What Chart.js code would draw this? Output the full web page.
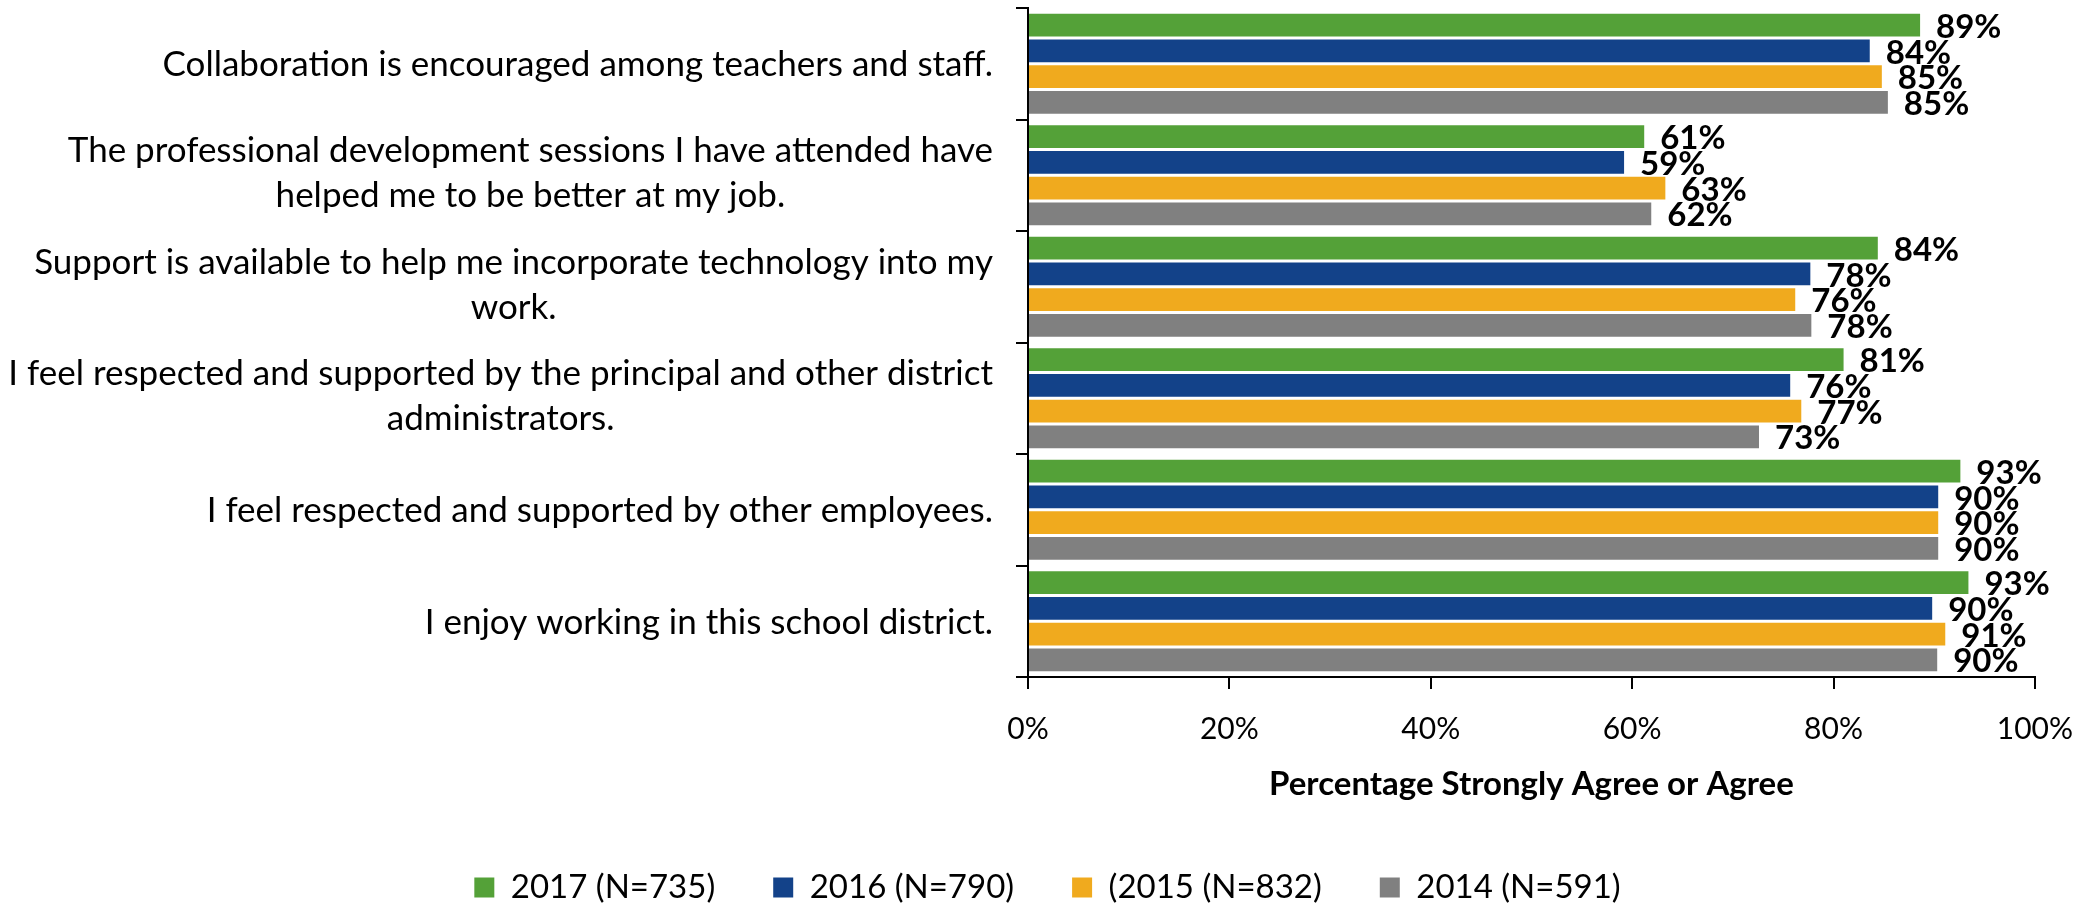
<!DOCTYPE html>
<html>
<head>
<meta charset="utf-8">
<script src="https://cdn.jsdelivr.net/npm/chart.js@4.4.1/dist/chart.umd.min.js"></script>
<style>
  html, body { margin: 0; padding: 0; background: #fff; }
  #wrap { width: 2095px; height: 904px; position: relative; }
</style>
</head>
<body>
<div id="wrap"><canvas id="chartId"></canvas></div>
<script>
// statements, top to bottom
var categories = [
	"Collaboration is encouraged among teachers and staff.",
	["The professional development sessions I have attended have", "helped me to be better at my job."],
	["Support is available to help me incorporate technology into my", "work."],
	["I feel respected and supported by the principal and other district", "administrators."],
	"I feel respected and supported by other employees.",
	"I enjoy working in this school district."
];

// percent agreeing
var values2017 = [88.6, 61.2, 84.4, 81.0, 92.6, 93.4];
var values2016 = [83.6, 59.2, 77.7, 75.7, 90.4, 89.8];
var values2015 = [84.8, 63.3, 76.2, 76.8, 90.4, 91.1];
var values2014 = [85.4, 61.9, 77.8, 72.6, 90.4, 90.3];

var seriesNames = ["2017 (N=735)", "2016 (N=790)", "(2015 (N=832)", "2014 (N=591)"];
var colours = ['#54A138', '#134289', '#F0AA1E', '#808080'];
var xTicks = [0, 20, 40, 60, 80, 100];

var FONT = 'Lato';

// draws the category labels, lines centred on each other, right edge near the axis
var yLabelPlugin = {
	id: 'yLabels',
	afterDraw: function (chart) {
		var ctx = chart.ctx;
		var ys = chart.scales.y;
		var right = chart.chartArea.left - 35;
		ctx.save();
		ctx.font = '35px ' + FONT;
		ctx.fillStyle = '#000';
		ctx.textAlign = 'center';
		ctx.textBaseline = 'middle';
		categories.forEach(function (lab, i) {
			var lines = Array.isArray(lab) ? lab : [lab];
			var w = Math.max.apply(null, lines.map(function (l) { return ctx.measureText(l).width; }));
			var cx = right - w / 2;
			var cy = ys.getPixelForTick(i) + (lines.length === 1 ? 1 : -2);
			var lh = 45;
			lines.forEach(function (l, k) {
				ctx.fillText(l, cx, cy + (k - (lines.length - 1) / 2) * lh);
			});
		});
		ctx.restore();
	}
};

// value labels at the end of each bar
var valueLabelPlugin = {
	id: 'valueLabels',
	afterDatasetsDraw: function (chart) {
		var ctx = chart.ctx;
		ctx.save();
		ctx.font = 'bold 33px ' + FONT;
		ctx.fillStyle = '#000';
		ctx.textAlign = 'left';
		ctx.textBaseline = 'middle';
		chart.data.datasets.forEach(function (ds, di) {
			var meta = chart.getDatasetMeta(di);
			meta.data.forEach(function (bar, i) {
				ctx.fillText(Math.round(ds.data[i]) + '%', bar.x + 16, bar.y + 2);
			});
		});
		ctx.restore();
	}
};

function makeChart() {
	Chart.defaults.font.family = FONT;
	Chart.defaults.color = '#000';

	var chrt = document.getElementById("chartId").getContext("2d");
	new Chart(chrt, {
		type: 'bar',
		data: {
			labels: categories,
			datasets: [
				{ label: seriesNames[0], data: values2017, backgroundColor: colours[0] },
				{ label: seriesNames[1], data: values2016, backgroundColor: colours[1] },
				{ label: seriesNames[2], data: values2015, backgroundColor: colours[2] },
				{ label: seriesNames[3], data: values2014, backgroundColor: colours[3] }
			]
		},
		options: {
			indexAxis: 'y',
			responsive: true,
			maintainAspectRatio: false,
			animation: false,
			categoryPercentage: 0.923,
			barPercentage: 0.883,
			layout: { padding: { top: 8, left: 0, right: 0, bottom: -10 } },
			plugins: {
				legend: {
					position: 'bottom',
					labels: {
						font: { size: 33 },
						boxWidth: 20,
						boxHeight: 20,
						padding: 58,
						color: '#000'
					}
				},
				tooltip: { enabled: false }
			},
			scales: {
				x: {
					min: 0,
					max: 100,
					afterBuildTicks: function (s) { s.ticks = xTicks.map(function (v) { return { value: v }; }); },
					ticks: {
						font: { size: 30 },
						color: '#000',
						padding: 22,
						maxRotation: 0,
						callback: function (v) { return v + '%'; }
					},
					grid: { drawOnChartArea: false, tickLength: 12, color: '#000', lineWidth: 2 },
					border: { color: '#000', width: 2 },
					title: {
						display: true,
						text: 'Percentage Strongly Agree or Agree',
						font: { size: 33, weight: 'bold' },
						color: '#000',
						padding: { top: 0, bottom: 9 }
					},
					afterFit: function (s) { s.height = 136; }
				},
				y: {
					ticks: { display: false },
					grid: { offset: true, drawOnChartArea: false, tickLength: 12, color: '#000', lineWidth: 2 },
					border: { color: '#000', width: 2 },
					afterFit: function (s) { s.width = 1028; }
				},
				yRight: {
					type: 'linear',
					position: 'right',
					display: true,
					ticks: { display: false },
					grid: { display: false },
					border: { display: false },
					afterFit: function (s) { s.width = 58; }
				}
			}
		},
		plugins: [yLabelPlugin, valueLabelPlugin]
	});
}

Promise.all([
	document.fonts.load('35px Lato'),
	document.fonts.load('bold 33px Lato')
]).then(makeChart, makeChart);
</script>
</body>
</html>
